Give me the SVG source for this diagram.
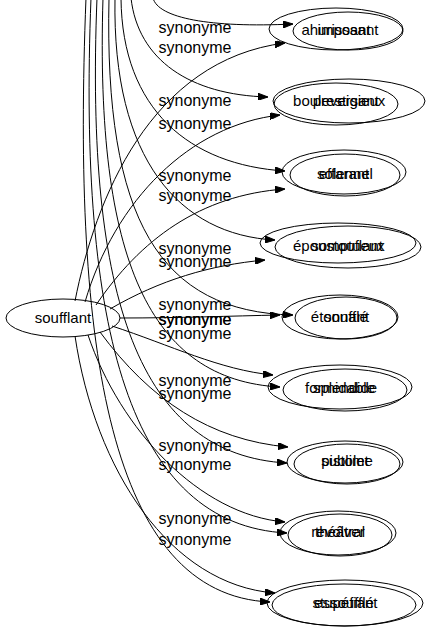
<svg xmlns="http://www.w3.org/2000/svg" width="428" height="635" viewBox="0 0 428 635">
<style>
.n ellipse{fill:none;stroke:#000;stroke-width:1}
.n text,.lbl{font-family:"Liberation Sans",Arial,sans-serif;font-size:15px;fill:#000}
.n text{text-anchor:middle}
.lbl{text-anchor:middle;font-size:16px}
.e path{fill:none;stroke:#000;stroke-width:1;marker-end:url(#ah)}
</style>
<defs>
<marker id="ah" viewBox="0 0 10 7" refX="10" refY="3.5" markerWidth="10" markerHeight="7" markerUnits="userSpaceOnUse" orient="auto">
<path d="M0,0 L10,3.5 L0,7 z" fill="#000" stroke="#000"/>
</marker>
</defs>
<rect width="428" height="635" fill="#fff"/>
<g id="edges" class="e">
<path d="M153,-2 C158,18 210,28 293,24"/>
<path d="M75,301 C95,200 150,60 285,43"/>
<path d="M131,-2 C138,60 190,95 268,97"/>
<path d="M85,302 C115,200 190,125 280,115"/>
<path d="M121,-2 C122,110 190,165 285,171"/>
<path d="M96,305 C140,240 200,195 285,189"/>
<path d="M115,-2 C112,160 180,235 275,240"/>
<path d="M110,309 C160,280 210,265 265,260"/>
<path d="M109,-2 C104,220 160,312 293,315"/>
<path d="M120,318 C180,318 230,316 280,315"/>
<path d="M112,326 C170,345 220,370 273,375"/>
<path d="M103,-2 C95,260 150,380 280,387"/>
<path d="M100,332 C150,400 210,440 288,447"/>
<path d="M97,-2 C85,300 140,455 287,463"/>
<path d="M88,335 C120,430 200,515 285,522"/>
<path d="M91,-2 C78,330 130,525 287,533"/>
<path d="M75,336 C95,470 170,585 275,593"/>
<path d="M86,-2 C72,350 110,595 270,602"/>
</g>
<g id="labels">
<text class="lbl" x="195" y="33">synonyme</text>
<text class="lbl" x="195" y="53">synonyme</text>
<text class="lbl" x="195" y="106">synonyme</text>
<text class="lbl" x="195" y="129">synonyme</text>
<text class="lbl" x="195" y="181">synonyme</text>
<text class="lbl" x="195" y="201">synonyme</text>
<text class="lbl" x="195" y="254">synonyme</text>
<text class="lbl" x="195" y="267">synonyme</text>
<text class="lbl" x="195" y="310">synonyme</text>
<text class="lbl" x="195" y="325">synonyme</text>
<text class="lbl" x="195" y="325">synonyme</text>
<text class="lbl" x="195" y="339">synonyme</text>
<text class="lbl" x="195" y="386">synonyme</text>
<text class="lbl" x="195" y="399">synonyme</text>
<text class="lbl" x="195" y="451">synonyme</text>
<text class="lbl" x="195" y="470">synonyme</text>
<text class="lbl" x="195" y="524">synonyme</text>
<text class="lbl" x="195" y="545">synonyme</text>
</g>
<g id="soufflant" class="n"><ellipse cx="63" cy="318" rx="57" ry="19"/><text x="63" y="323">soufflant</text></g>
<g id="ahurissant" class="n"><ellipse cx="336" cy="29" rx="67" ry="21"/><text x="336" y="35">ahurissant</text></g>
<g id="imposant" class="n"><ellipse cx="348" cy="31" rx="55" ry="19"/><text x="348" y="35">imposant</text></g>
<g id="bouleversant" class="n"><ellipse cx="336" cy="104" rx="62" ry="21"/><text x="336" y="106">bouleversant</text></g>
<g id="prestigieux" class="n"><ellipse cx="349" cy="101" rx="76" ry="22"/><text x="349" y="106">prestigieux</text></g>
<g id="effarant" class="n"><ellipse cx="344" cy="172" rx="62" ry="22"/><text x="344" y="179">effarant</text></g>
<g id="solennel" class="n"><ellipse cx="345" cy="175" rx="55" ry="21"/><text x="345" y="179">solennel</text></g>
<g id="epoustouflant" class="n"><ellipse cx="338" cy="243" rx="78" ry="20"/><text x="338" y="251">époustouflant</text></g>
<g id="somptueux" class="n"><ellipse cx="348" cy="247" rx="73" ry="21"/><text x="348" y="251">somptueux</text></g>
<g id="etonnant" class="n"><ellipse cx="340" cy="317" rx="58" ry="22"/><text x="340" y="322">étonnant</text></g>
<g id="souffle" class="n"><ellipse cx="346" cy="318" rx="51" ry="21"/><text x="346" y="322">soufflé</text></g>
<g id="formidable" class="n"><ellipse cx="340" cy="387" rx="72" ry="22"/><text x="340" y="393">formidable</text></g>
<g id="splendide" class="n"><ellipse cx="345" cy="390" rx="62" ry="21"/><text x="345" y="393">splendide</text></g>
<g id="pistolet" class="n"><ellipse cx="345" cy="462" rx="58" ry="21"/><text x="345" y="466">pistolet</text></g>
<g id="sublime" class="n"><ellipse cx="347" cy="464" rx="53" ry="20"/><text x="347" y="466">sublime</text></g>
<g id="revolver" class="n"><ellipse cx="338" cy="533" rx="58" ry="22"/><text x="338" y="537">revolver</text></g>
<g id="theatral" class="n"><ellipse cx="340" cy="535" rx="52" ry="21"/><text x="340" y="537">théâtral</text></g>
<g id="stupefiant" class="n"><ellipse cx="345" cy="603" rx="78" ry="23"/><text x="345" y="608">stupéfiant</text></g>
<g id="essouffle" class="n"><ellipse cx="344" cy="605" rx="72" ry="21"/><text x="344" y="608">essoufflé</text></g>
</svg>
